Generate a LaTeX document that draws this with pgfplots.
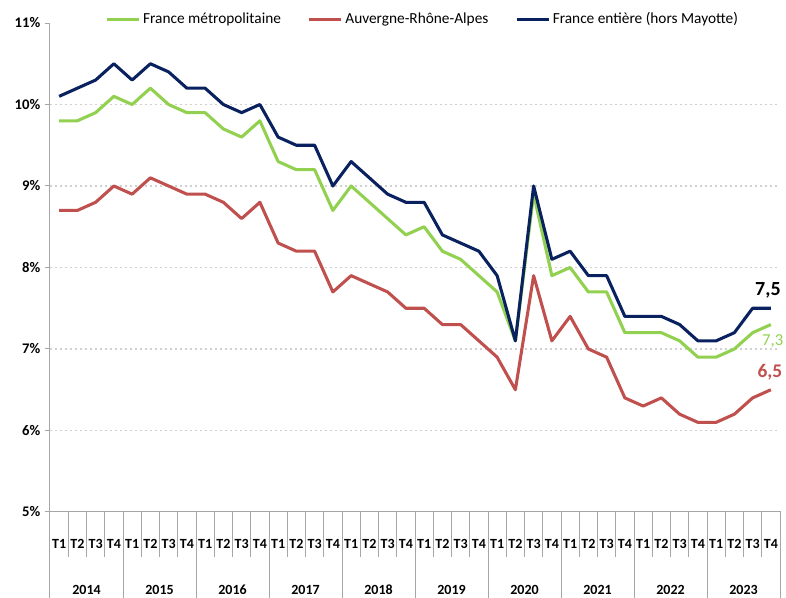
\documentclass[border=0pt]{standalone}
\usepackage{fontspec}
\setmainfont{Carlito}
\usepackage{pgfplots}
\pgfplotsset{compat=1.18}
\usepackage{pgfplotstable}
\definecolor{cgreen}{HTML}{92D050}
\definecolor{cred}{HTML}{C0504D}
\definecolor{cnavy}{HTML}{0A2160}
\definecolor{cax}{HTML}{A6A6A6}
\definecolor{cgrid}{HTML}{D0D0D0}

\pgfplotstableread{
x metro aura france
0 9.8 8.7 10.1
1 9.8 8.7 10.2
2 9.9 8.8 10.3
3 10.1 9.0 10.5
4 10.0 8.9 10.3
5 10.2 9.1 10.5
6 10.0 9.0 10.4
7 9.9 8.9 10.2
8 9.9 8.9 10.2
9 9.7 8.8 10.0
10 9.6 8.6 9.9
11 9.8 8.8 10.0
12 9.3 8.3 9.6
13 9.2 8.2 9.5
14 9.2 8.2 9.5
15 8.7 7.7 9.0
16 9.0 7.9 9.3
17 8.8 7.8 9.1
18 8.6 7.7 8.9
19 8.4 7.5 8.8
20 8.5 7.5 8.8
21 8.2 7.3 8.4
22 8.1 7.3 8.3
23 7.9 7.1 8.2
24 7.7 6.9 7.9
25 7.1 6.5 7.1
26 8.9 7.9 9.0
27 7.9 7.1 8.1
28 8.0 7.4 8.2
29 7.7 7.0 7.9
30 7.7 6.9 7.9
31 7.2 6.4 7.4
32 7.2 6.3 7.4
33 7.2 6.4 7.4
34 7.1 6.2 7.3
35 6.9 6.1 7.1
36 6.9 6.1 7.1
37 7.0 6.2 7.2
38 7.2 6.4 7.5
39 7.3 6.5 7.5
}\data

\begin{document}
\begin{tikzpicture}
\begin{axis}[
  scale only axis,
  width=547.5pt, height=366.75pt,
  xmin=-0.5, xmax=39.5,
  ymin=5, ymax=11,
  clip=false,
  axis line style={draw=none},
  xtick={0,...,39},
  xticklabels={T1,T2,T3,T4,T1,T2,T3,T4,T1,T2,T3,T4,T1,T2,T3,T4,T1,T2,T3,T4,T1,T2,T3,T4,T1,T2,T3,T4,T1,T2,T3,T4,T1,T2,T3,T4,T1,T2,T3,T4},
  xtick style={draw=none},
  xticklabel style={font=\bfseries\fontsize{10.5}{12}\selectfont, anchor=center, yshift=-20.25pt},
  extra x ticks={1.5,5.5,9.5,13.5,17.5,21.5,25.5,29.5,33.5,37.5},
  extra x tick labels={2014,2015,2016,2017,2018,2019,2020,2021,2022,2023},
  extra x tick style={xticklabel style={yshift=-34.5pt}, tick style={draw=none}},
  ytick={6,7,8,9,10},
  yticklabels={6\%,7\%,8\%,9\%,10\%},
  extra y ticks={5,11},
  extra y tick labels={5\%,11\%},
  extra y tick style={grid=none},
  ytick pos=left,
  tick align=outside,
  major tick length=3.75pt,
  ytick style={draw=cax, line width=0.75pt},
  yticklabel style={font=\bfseries\fontsize{11}{12}\selectfont, black},
  ymajorgrids,
  grid style={draw=cgrid, line width=0.9pt, dash pattern=on 1.5pt off 2.25pt},
  legend style={at={(0.511,1.008)}, anchor=center, draw=none, fill=none,
    font=\fontsize{11.5}{13}\selectfont, inner sep=0pt,
    /tikz/every even column/.append style={column sep=18pt}},
  legend columns=3,
  legend image code/.code={\draw[#1] (0pt,0pt) -- (24pt,0pt);},
  every axis plot/.append style={line width=2.3pt, line join=round},
]
\addplot[cgreen] table[x=x, y=metro] {\data};
\addlegendentry{France métropolitaine}
\addplot[cred] table[x=x, y=aura] {\data};
\addlegendentry{Auvergne-Rhône-Alpes}
\addplot[cnavy] table[x=x, y=france] {\data};
\addlegendentry{France entière (hors Mayotte)}
\node[font=\bfseries\fontsize{15}{15}\selectfont, text=black] at (axis cs:38.84,7.72) {7,5};
\node[font=\fontsize{12.5}{13}\selectfont, text=cgreen] at (axis cs:39.1,7.10) {7,3};
\node[font=\bfseries\fontsize{14.5}{15}\selectfont, text=cred] at (axis cs:38.95,6.71) {6,5};
\end{axis}
\begin{scope}[draw=cax, line width=0.75pt]
\draw (0,366.75pt) -- (0,-64.5pt);
\draw (0,0) -- (547.5pt,0) -- (547.5pt,-64.5pt);
\foreach \i in {1,...,39} \draw (\i*13.6875pt,0) -- ++(0,-33.75pt);
\foreach \i in {4,8,...,36} \draw (\i*13.6875pt,0) -- ++(0,-64.5pt);
\end{scope}
\pgfresetboundingbox
\path (-37.5pt,-64.5pt) rectangle (552pt,384pt);
\end{tikzpicture}
\end{document}
